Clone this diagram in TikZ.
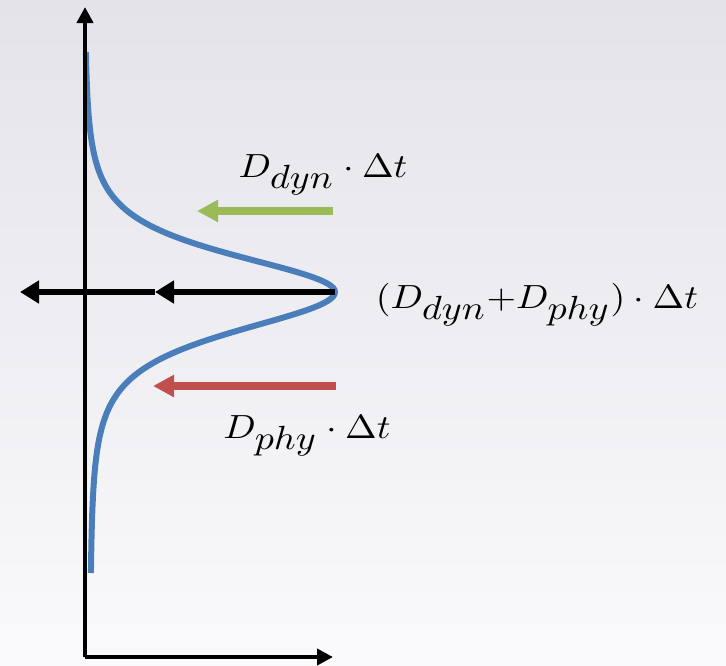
\documentclass[tikz,border=0pt]{standalone}
\usepackage{graphicx}
\usetikzlibrary{arrows.meta}
\definecolor{curveblue}{RGB}{74,126,187}
\definecolor{dyngreen}{RGB}{155,187,89}
\definecolor{phyred}{RGB}{192,80,77}
\definecolor{bgtop}{RGB}{227,227,233}
\definecolor{bgbottom}{RGB}{250,250,252}
\newcommand{\biglabel}[1]{\scalebox{3.8}[3.35]{$#1$}}
\newcommand{\Dsub}[1]{D_{\textstyle #1}}
\begin{document}
\begin{tikzpicture}[x=1pt,y=-1pt,
    axis/.style={line width=4.5pt,-{Triangle[length=16pt,width=16pt]}},
    flux/.style={line width=5.5pt,-{Triangle[length=19pt,width=22pt]}},
    term/.style={line width=7.5pt,-{Triangle[length=21pt,width=21pt]}},
    lbl/.style={inner sep=0pt,anchor=base}]
    \shade [top color=bgtop,bottom color=bgbottom] (0,0) rectangle (726,665);
    \useasboundingbox (0,0) rectangle (726,665);
    \coordinate (O) at (85,657);
    \coordinate (ytip) at (85,7);
    \coordinate (xtip) at (333,657);
    \coordinate (peak) at (335,292);
    \coordinate (mid) at (155,292);
    \coordinate (left) at (20,292);
    \coordinate (dynA) at (333,211);
    \coordinate (dynB) at (197,211);
    \coordinate (phyA) at (336,386);
    \coordinate (phyB) at (153,386);
    \draw [curveblue,line width=6pt] plot [domain=52:292,samples=120] ({84.5+250.5/(1+((\x-292)/68)^2)^2},\x)
        -- plot [domain=292:573,samples=120] ({90+245/(1+((\x-292)/72)^2)^2},\x);
    \draw [axis] (O) -- (ytip);
    \draw [axis] (O) -- (xtip);
    \draw [flux] (peak) -- (mid);
    \draw [flux] (mid) -- (left);
    \draw [term,dyngreen] (dynA) -- (dynB);
    \draw [term,phyred] (phyA) -- (phyB);
    \node [lbl] (dynlbl) at (323,177) {\biglabel{\Dsub{dyn}\cdot\Delta t}};
    \node [lbl] (sumlbl) at (537,308) {\biglabel{(\Dsub{dyn}\mathord{+}\Dsub{phy})\cdot\Delta t}};
    \node [lbl] (phylbl) at (307,438) {\biglabel{\Dsub{phy}\cdot\Delta t}};
\end{tikzpicture}
\end{document}
